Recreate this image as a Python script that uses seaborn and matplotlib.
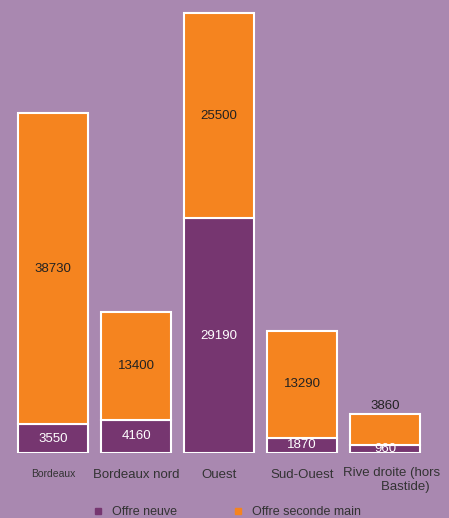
import numpy as np
import pandas as pd
import seaborn as sns
import matplotlib.pyplot as plt
from matplotlib.lines import Line2D

zones = ["Bordeaux", "Bordeaux nord", "Ouest", "Sud-Ouest", "Rive droite (hors\nBastide)   "]
offre_neuve = [3550, 4160, 29190, 1870, 960]
offre_seconde = [38730, 13400, 25500, 13290, 3860]

bg = "#A988B0"
purple = "#763670"
orange = "#F5841F"

sns.set_theme(style="white")
plt.rcParams['font.family'] = ['Liberation Sans', 'DejaVu Sans']

df = pd.DataFrame({"zone": zones, "neuve": offre_neuve, "seconde": offre_seconde})

fig = plt.figure(figsize=(4.49, 5.18), dpi=100, facecolor=bg)
ax = fig.add_axes([0, 1 - 453 / 518, 1, 453 / 518])
ax.set_facecolor(bg)

sns.barplot(data=df, x="zone", y="neuve", color=purple, width=0.84,
            edgecolor="white", linewidth=1.5, saturation=1, ax=ax)
sns.barplot(data=df, x="zone", y="seconde", color=orange, width=0.84,
            bottom=df["neuve"], edgecolor="white", linewidth=1.5, saturation=1, ax=ax)

ax.set_xlim(-0.64, 4.77)
ax.set_ylim(0, sum([offre_neuve[2], offre_seconde[2]]) * 453 / 440)
ax.set_xlabel("")
ax.set_ylabel("")
ax.set_yticks([])
ax.set_xticks([])
for s in ax.spines.values():
    s.set_visible(False)

for i, (n, s) in enumerate(zip(offre_neuve, offre_seconde)):
    ax.text(i, n / 2, str(n), ha="center", va="center", color="white", fontsize=9.5)
    if s < 5000:
        ax.text(i, n + s + 300, str(s), ha="center", va="bottom", color="#222222", fontsize=9.5)
    else:
        ax.text(i, n + s / 2, str(s), ha="center", va="center", color="#222222", fontsize=9.5)

# category labels
for i, z in enumerate(zones):
    fs = 7.5 if z == "Bordeaux" else 9.5
    if i < 4:
        fig.text((53 + 83 * i) / 449, 1 - 473 / 518, z, ha="center",
                 va="center_baseline", fontsize=fs, color="#333333")
    else:
        fig.text(392 / 449, 1 - 467 / 518, z, ha="center", va="top",
                 fontsize=fs, color="#333333", multialignment="right")

handles = [Line2D([], [], marker="s", linestyle="", color=purple, markersize=5),
           Line2D([], [], marker="s", linestyle="", color=orange, markersize=5)]
fig.legend(handles, ["Offre neuve", "Offre seconde main"], loc="lower center",
           bbox_to_anchor=(0.505, -0.022), ncol=2, frameon=False, fontsize=9,
           handlelength=1.0, handletextpad=0.6, columnspacing=4.4, labelcolor="#333333")

fig.savefig("out.png", dpi=100, facecolor=bg)
